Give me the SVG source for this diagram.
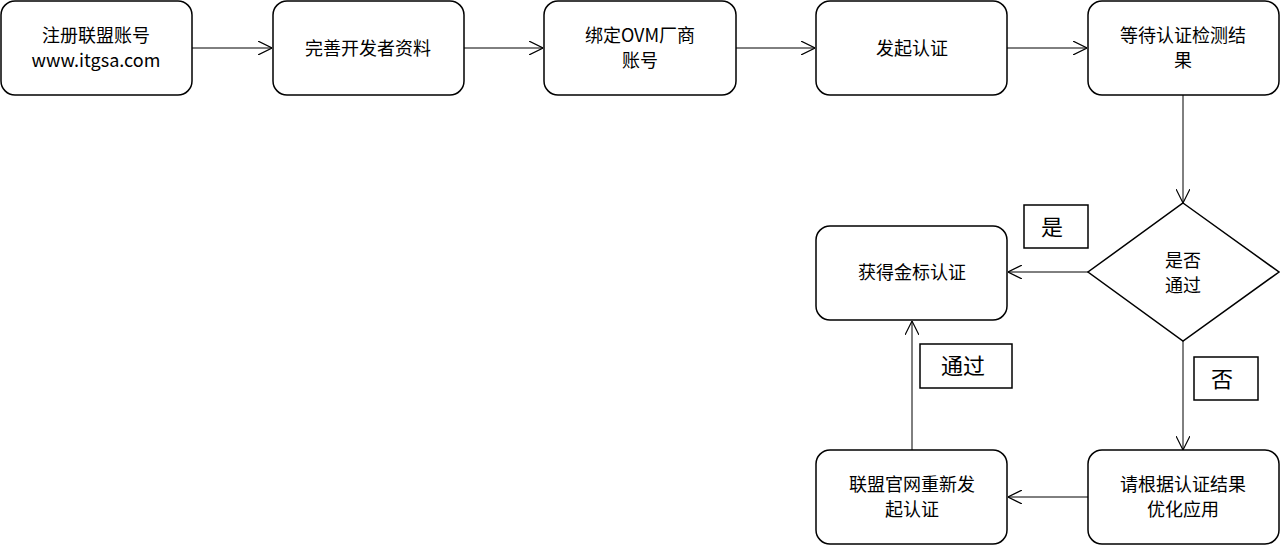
<svg xmlns="http://www.w3.org/2000/svg" width="1281" height="545" viewBox="0 0 1281 545">
<defs>
<style>
.n{fill:#fff;stroke:#000;stroke-width:1.5}
.t{font-family:"Noto Sans CJK SC","Liberation Sans",sans-serif;font-size:18px;text-anchor:middle;fill:#000}
.l{font-family:"Noto Sans CJK SC",sans-serif;font-size:22px;text-anchor:middle;fill:#000}
.c{stroke:#000;stroke-width:1;fill:none;marker-end:url(#a)}
</style>
<marker id="a" viewBox="0 0 12 12" refX="12" refY="6" markerWidth="14" markerHeight="14" markerUnits="userSpaceOnUse" orient="auto"><path d="M0 0L12 6L0 12" fill="none" stroke="#000" stroke-width="1"/></marker>
</defs>
<rect width="1281" height="545" fill="#fff"/>
<g id="connectors">
<line class="c" x1="192" y1="48" x2="272" y2="48"/>
<line class="c" x1="464" y1="48" x2="543" y2="48"/>
<line class="c" x1="736" y1="48" x2="815" y2="48"/>
<line class="c" x1="1007" y1="48" x2="1087" y2="48"/>
<line class="c" x1="1183" y1="95" x2="1183" y2="203"/>
<line class="c" x1="1088" y1="272" x2="1008" y2="272"/>
<line class="c" x1="1183" y1="341" x2="1183" y2="450"/>
<line class="c" x1="1088" y1="497" x2="1008" y2="497"/>
<line class="c" x1="912" y1="450" x2="912" y2="321"/>
</g>
<g id="n1"><rect class="n" x="1" y="1" width="191" height="94" rx="14"/><text class="t" x="96" y="42">注册联盟账号</text><text class="t" x="96" y="67">www.itgsa.com</text></g>
<g id="n2"><rect class="n" x="273" y="1" width="191" height="94" rx="14"/><text class="t" x="368" y="55">完善开发者资料</text></g>
<g id="n3"><rect class="n" x="544" y="1" width="192" height="94" rx="14"/><text class="t" x="640" y="42">绑定OVM厂商</text><text class="t" x="640" y="67">账号</text></g>
<g id="n4"><rect class="n" x="816" y="1" width="191" height="94" rx="14"/><text class="t" x="912" y="55">发起认证</text></g>
<g id="n5"><rect class="n" x="1088" y="1" width="191" height="94" rx="14"/><text class="t" x="1183" y="42">等待认证检测结</text><text class="t" x="1183" y="67">果</text></g>
<g id="d"><path class="n" d="M1183 203L1279 272L1183 341L1088 272Z"/><text class="t" x="1183" y="267">是否</text><text class="t" x="1183" y="292">通过</text></g>
<g id="gold"><rect class="n" x="816" y="226" width="191" height="94" rx="14"/><text class="t" x="912" y="279">获得金标认证</text></g>
<g id="re"><rect class="n" x="816" y="450" width="191" height="94" rx="14"/><text class="t" x="912" y="491">联盟官网重新发</text><text class="t" x="912" y="516">起认证</text></g>
<g id="opt"><rect class="n" x="1088" y="450" width="191" height="94" rx="14"/><text class="t" x="1183" y="491">请根据认证结果</text><text class="t" x="1183" y="516">优化应用</text></g>
<g id="lyes"><rect class="n" x="1024" y="205" width="64" height="43"/><text class="l" x="1052" y="235">是</text></g>
<g id="lpass"><rect class="n" x="920" y="344" width="92" height="44"/><text class="l" x="963" y="374">通过</text></g>
<g id="lno"><rect class="n" x="1194" y="357" width="64" height="43"/><text class="l" x="1222" y="387">否</text></g>
</svg>
